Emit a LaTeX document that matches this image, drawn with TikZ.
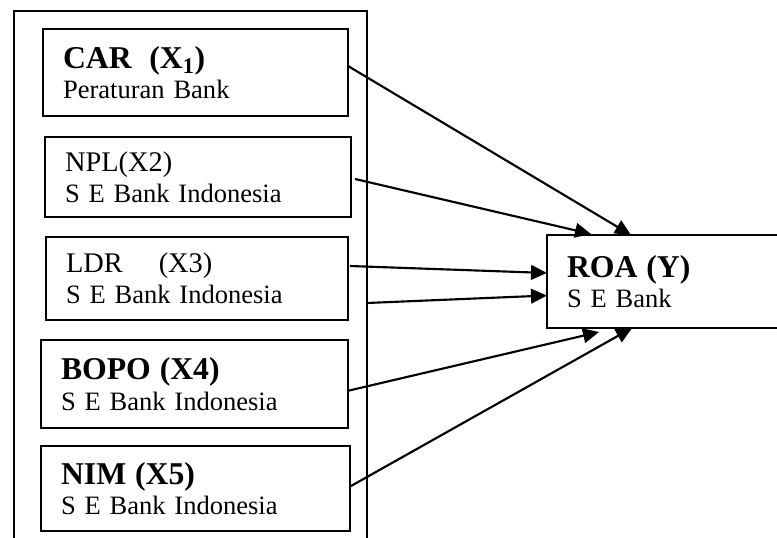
\documentclass[tikz,border=0pt]{standalone}
\usepackage{fontspec}
\setmainfont{Liberation Serif}
\usetikzlibrary{calc, arrows.meta}

\newcommand{\titlefont}{\fontsize{23.8pt}{23pt}\selectfont\bfseries}
\newcommand{\plainfont}{\fontsize{21.3pt}{23pt}\selectfont}
\newcommand{\subfont}{\fontsize{19.9pt}{23pt}\selectfont}

\begin{document}
\begin{tikzpicture}[
    x=0.75pt, y=-0.75pt,
    varbox/.style={draw, line width=0.9pt, rectangle, anchor=north west,
        outer sep=0pt, inner xsep=15pt, inner ysep=0pt, align=left, font=\subfont},
    conn/.style={line width=1.6pt},
    >={Triangle[length=12pt, width=11pt]}
]

\useasboundingbox (0,0) rectangle (777,538);

% Outer Frame (open at the bottom)
\draw[line width=0.8pt] (14,538) -- (14,11) -- (367,11) -- (367,538);
\coordinate (frameR) at (367,303);

% Independent Variables
\node[varbox, text width=198.75pt, minimum height=65.25pt] (car) at (43,29)
    {{\titlefont CAR\ \ (X\textsubscript{1})}\\Peraturan Bank};
\node[varbox, text width=199.5pt, minimum height=60pt] (npl) at (45,137)
    {{\plainfont NPL(X2)}\\S E Bank Indonesia};
\node[varbox, text width=196.5pt, minimum height=62.25pt] (ldr) at (46,237)
    {{\plainfont LDR\hspace{27pt}(X3)}\\S E Bank Indonesia};
\node[varbox, text width=200.25pt, minimum height=66pt] (bopo) at (41,340)
    {{\titlefont BOPO (X4)}\\S E Bank Indonesia};
\node[varbox, text width=201.75pt, minimum height=63.75pt] (nim) at (41,446)
    {{\titlefont NIM (X5)}\\S E Bank Indonesia};

% Dependent Variable
\node[varbox, text width=165pt, minimum height=69.75pt] (roa) at (547,235)
    {{\titlefont ROA (Y)}\\S E Bank};

% Arrows
\draw[->, conn] ($(car.east)+(0,-6.5)$) -- ($(roa.north west)+(84,0)$);
\draw[->, conn] ($(npl.east)+(4,2)$) -- ($(roa.north west)+(44,-1)$);
\draw[->, conn] ($(ldr.east)+(2,-12.5)$) -- ($(roa.west)+(0,-8.5)$);
\draw[->, conn] (frameR) -- ($(roa.west)+(0,14)$);
\draw[->, conn] ($(bopo.east)+(-1,7)$) -- ($(roa.south west)+(52,4)$);
\draw[->, conn] ($(nim.east)+(1,-2.5)$) -- ($(roa.south west)+(85,0)$);

\end{tikzpicture}
\end{document}
